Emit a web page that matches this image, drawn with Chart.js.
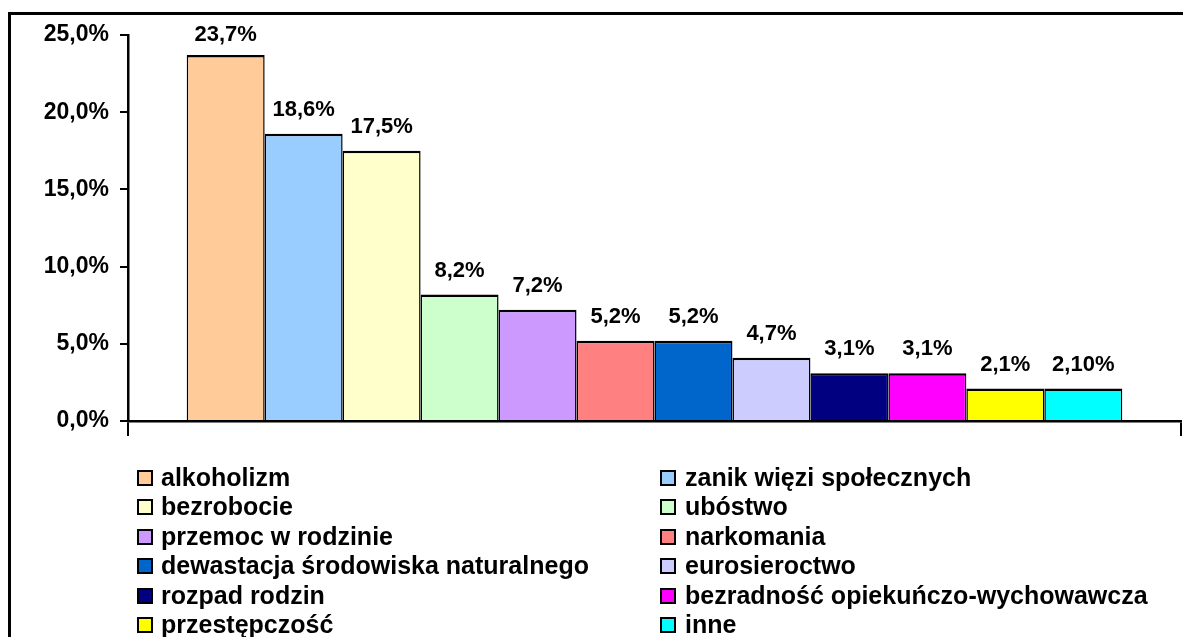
<!DOCTYPE html>
<html>
<head>
<meta charset="utf-8">
<script src="https://cdn.jsdelivr.net/npm/chart.js@4/dist/chart.umd.min.js"></script>
<style>
  html, body { margin: 0; padding: 0; background: #fff; }
  #wrap { position: relative; width: 1183px; height: 637px; overflow: hidden; }
  #c { position: absolute; left: 0; top: 0; }
  .lg { position: absolute; font-family: "Liberation Sans", Arial, sans-serif; font-weight: bold;
        font-size: 25px; line-height: 29.5px; height: 29.5px; white-space: nowrap; color: #000; }
  .sw { position: absolute; width: 12px; height: 12px; border: 2px solid #000; }
</style>
</head>
<body>
<div id="wrap">
  <canvas id="c" width="1183" height="637"></canvas>
</div>
<script>
const categories = ["alkoholizm", "zanik więzi społecznych", "bezrobocie", "ubóstwo",
  "przemoc w rodzinie", "narkomania", "dewastacja środowiska naturalnego", "eurosieroctwo",
  "rozpad rodzin", "bezradność opiekuńczo-wychowawcza", "przestępczość", "inne"];
const values = [23.7, 18.6, 17.5, 8.2, 7.2, 5.2, 5.2, 4.1, 3.1, 3.1, 2.1, 2.1];
const valueLabels = ["23,7%", "18,6%", "17,5%", "8,2%", "7,2%", "5,2%", "5,2%", "4,7%",
  "3,1%", "3,1%", "2,1%", "2,10%"];
const colors = ["#FFCC99", "#99CCFF", "#FFFFCC", "#CCFFCC", "#CC99FF", "#FF8080",
  "#0066CC", "#CCCCFF", "#000080", "#FF00FF", "#FFFF00", "#00FFFF"];
const yTicks = [0, 5, 10, 15, 20, 25];
const yTickLabels = ["0,0%", "5,0%", "10,0%", "15,0%", "20,0%", "25,0%"];

const FONT = '"Liberation Sans", Arial, sans-serif';

const frame = {
  id: 'frame',
  beforeDraw(chart) {
    const ctx = chart.ctx;
    ctx.save();
    ctx.fillStyle = '#fff';
    ctx.fillRect(0, 0, chart.width, chart.height);
    ctx.strokeStyle = '#000';
    ctx.lineWidth = 3;
    ctx.beginPath();
    ctx.moveTo(9.5, 637);
    ctx.lineTo(9.5, 13.5);
    ctx.lineTo(1183, 13.5);
    ctx.stroke();
    ctx.restore();
  }
};

const dataLabels = {
  id: 'dataLabels',
  afterDatasetsDraw(chart) {
    const ctx = chart.ctx;
    ctx.save();
    ctx.font = 'bold 22px ' + FONT;
    ctx.fillStyle = '#000';
    ctx.textAlign = 'center';
    ctx.textBaseline = 'alphabetic';
    chart.data.datasets.forEach((ds, i) => {
      const el = chart.getDatasetMeta(i).data[0];
      const y = Math.max(el.y - 17.8, chart.chartArea.top + 6);
      ctx.fillText(valueLabels[i], el.x, y);
    });
    ctx.restore();
  }
};

new Chart(document.getElementById('c'), {
  type: 'bar',
  data: {
    labels: [''],
    datasets: categories.map((name, i) => ({
      label: name,
      data: [values[i]],
      backgroundColor: colors[i],
      borderColor: '#000',
      borderWidth: { top: 2.5, left: 1.5, right: 1.5, bottom: 0 },
      borderSkipped: false,
      barPercentage: 1,
      categoryPercentage: 0.8885
    }))
  },
  options: {
    responsive: false,
    animation: false,
    layout: { padding: { left: 0, top: 35, right: 2, bottom: 201 } },
    plugins: { legend: { display: false }, tooltip: { enabled: false } },
    scales: {
      x: {
        grid: { offset: true, drawOnChartArea: false, drawTicks: true, tickLength: 15, color: '#000', lineWidth: 2 },
        border: { display: true, color: '#000', width: 2.5, z: 1 },
        ticks: { display: false },
        afterFit(s) { s.height = 15; }
      },
      y: {
        min: 0, max: 25,
        afterBuildTicks(s) { s.ticks = yTicks.map(v => ({ value: v })); },
        grid: { drawOnChartArea: false, drawTicks: true, tickLength: 8, color: '#000', lineWidth: 2 },
        border: { display: true, color: '#000', width: 2.5 },
        ticks: {
          padding: 11,
          color: '#000',
          font: { family: FONT, size: 23, weight: 'bold' },
          callback(v) { const k = yTicks.indexOf(v); return k >= 0 ? yTickLabels[k] : ''; }
        },
        afterFit(s) { s.width = 128; }
      }
    }
  },
  plugins: [frame, dataLabels]
});

// HTML legend in two columns
const wrap = document.getElementById('wrap');
categories.forEach((name, i) => {
  const col = i % 2, row = Math.floor(i / 2);
  const top = 462.6 + row * 29.5;
  const sx = col === 0 ? 137 : 660;
  const tx = col === 0 ? 161 : 685;
  const sw = document.createElement('div');
  sw.className = 'sw';
  sw.style.left = sx + 'px';
  sw.style.top = (top + 7) + 'px';
  sw.style.background = colors[i];
  wrap.appendChild(sw);
  const t = document.createElement('div');
  t.className = 'lg';
  t.style.left = tx + 'px';
  t.style.top = top + 'px';
  t.textContent = name;
  wrap.appendChild(t);
});
</script>
</body>
</html>
